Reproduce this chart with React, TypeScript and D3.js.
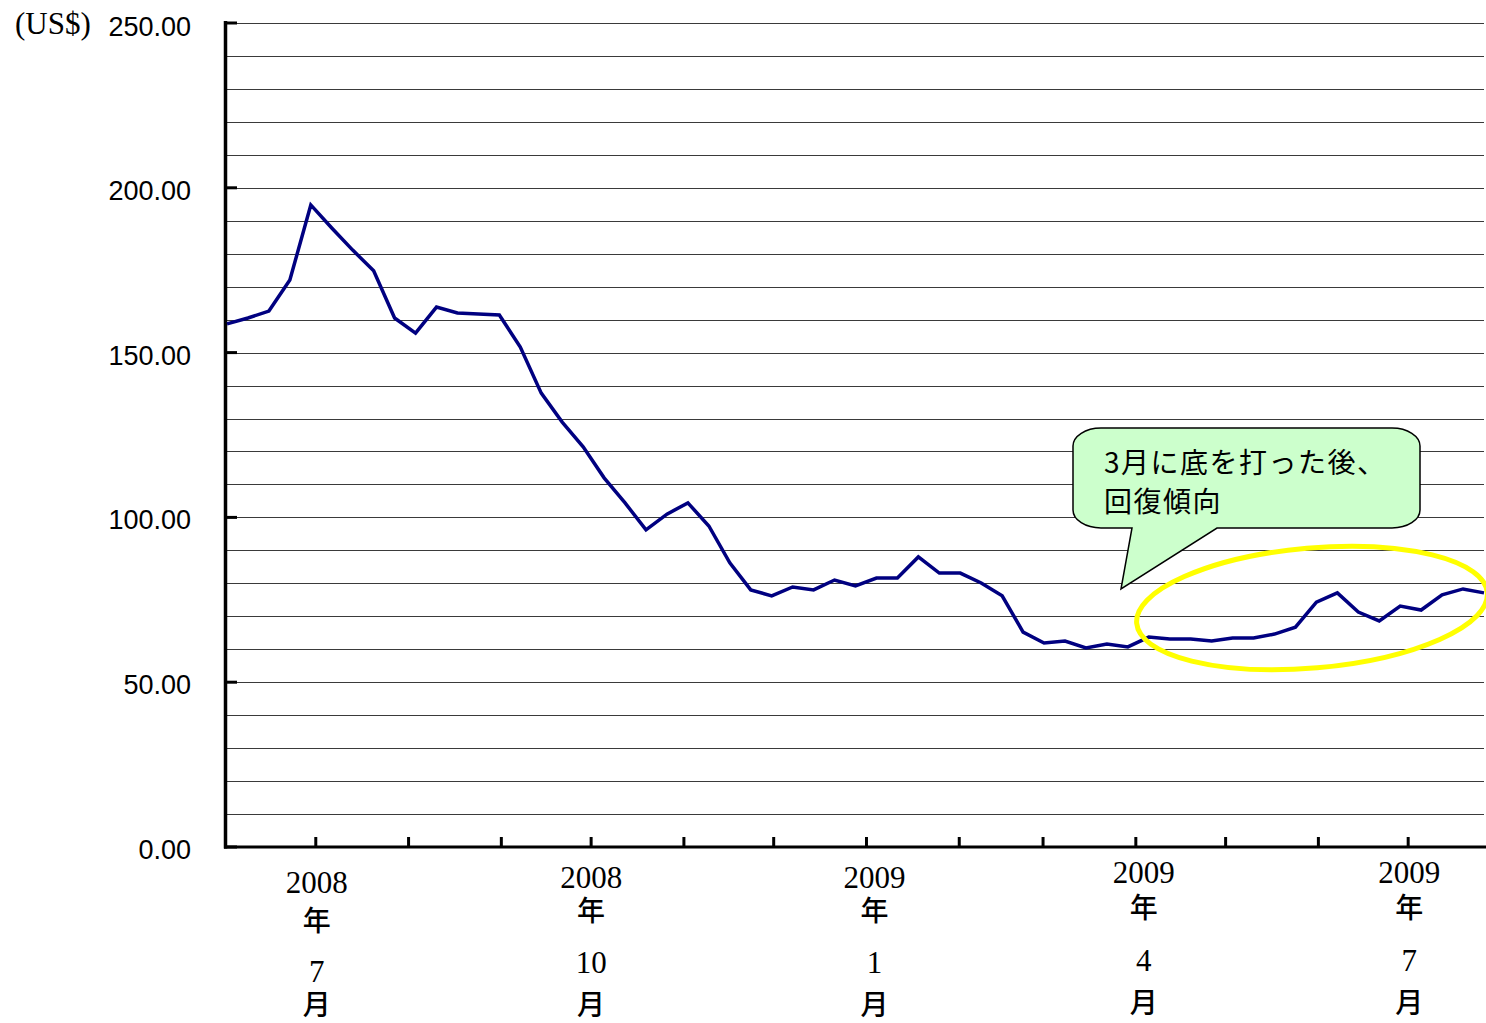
import React from "react";
import * as d3 from "d3";

const dates: string[] = [
  "2008-06-01","2008-06-08","2008-06-15","2008-06-22","2008-06-29",
  "2008-07-06","2008-07-13","2008-07-20","2008-07-27",
  "2008-08-03","2008-08-10","2008-08-17","2008-08-24","2008-08-31",
  "2008-09-07","2008-09-14","2008-09-21","2008-09-28",
  "2008-10-05","2008-10-12","2008-10-19","2008-10-26",
  "2008-11-02","2008-11-09","2008-11-16","2008-11-23","2008-11-30",
  "2008-12-07","2008-12-14","2008-12-21","2008-12-28",
  "2009-01-04","2009-01-11","2009-01-18","2009-01-25",
  "2009-02-01","2009-02-08","2009-02-15","2009-02-22",
  "2009-03-01","2009-03-08","2009-03-15","2009-03-22","2009-03-29",
  "2009-04-05","2009-04-12","2009-04-19","2009-04-26",
  "2009-05-03","2009-05-10","2009-05-17","2009-05-24","2009-05-31",
  "2009-06-07","2009-06-14","2009-06-21","2009-06-28",
  "2009-07-05","2009-07-12","2009-07-19","2009-07-26",
];

const prices: number[] = [
  158.7, 160.5, 162.6, 172.0, 194.8,
  187.8, 181.1, 174.8, 160.5,
  155.9, 163.8, 162.0, 161.7, 161.4,
  151.7, 137.7, 128.9, 121.4,
  112.0, 104.4, 96.2, 101.0,
  104.4, 97.4, 86.2, 78.0, 76.2,
  78.9, 78.0, 81.0, 79.2,
  81.6, 81.6, 88.0, 83.1,
  83.1, 80.1, 76.2, 65.2,
  61.9, 62.5, 60.4, 61.6, 60.7,
  63.7, 63.1, 63.1, 62.5,
  63.4, 63.4, 64.6, 66.7, 74.3,
  77.1, 71.3, 68.6, 73.1,
  71.9, 76.5, 78.3, 77.1,
];

const yTicks: number[] = [0, 50, 100, 150, 200, 250];
const monthTicks: string[] = [
  "2008-07-01","2008-08-01","2008-09-01","2008-10-01","2008-11-01","2008-12-01",
  "2009-01-01","2009-02-01","2009-03-01","2009-04-01","2009-05-01","2009-06-01","2009-07-01",
];
const labelDates: string[] = ["2008-07-01", "2008-10-01", "2009-01-01", "2009-04-01", "2009-07-01"];
const labelYears: string[] = ["2008", "2008", "2009", "2009", "2009"];
const labelMonths: string[] = ["7", "10", "1", "4", "7"];
const yearSuffix = "年";
const monthSuffix = "月";
const unitLabel = "(US$)";
const calloutLines: string[] = ["3月に底を打った後、", "回復傾向"];

const W = 1486;
const H = 1023;

export default function App() {
  const parse = d3.timeParse("%Y-%m-%d");
  const x = d3
    .scaleTime()
    .domain([parse("2008-06-01")!, parse("2009-07-26")!])
    .range([227, 1484]);
  const y = d3.scaleLinear().domain([0, 250]).range([847, 23]);

  const data = dates.map((d, i) => ({ date: parse(d)!, v: prices[i] }));
  const line = d3
    .line<{ date: Date; v: number }>()
    .x((d) => x(d.date))
    .y((d) => y(d.v));

  const grid = d3.range(10, 251, 10);

  // label layout (dx shift, baselines for year / 年 / month / 月)
  const labelLayout = [
    { dx: 0, b: [893, 931, 982, 1015] },
    { dx: -1, b: [888, 921, 973, 1015] },
    { dx: 7, b: [888, 921, 973, 1015] },
    { dx: 7, b: [883, 918, 971, 1013] },
    { dx: 0, b: [883, 918, 971, 1013] },
  ];

  const serif = "'Liberation Serif', 'Times New Roman', serif";
  const sans = "'Liberation Sans', Arial, sans-serif";
  const cjk = "'Noto Sans CJK JP', 'Noto Sans', sans-serif";

  // callout geometry
  const L = 1073, R = 1420, T = 428, B = 528, rx = 28, ry = 18;
  const calloutPath =
    `M ${L + rx} ${T} H ${R - rx} A ${rx} ${ry} 0 0 1 ${R} ${T + ry} V ${B - ry} ` +
    `A ${rx} ${ry} 0 0 1 ${R - rx} ${B} H 1217 L 1121 589 L 1132 ${B} H ${L + rx} ` +
    `A ${rx} ${ry} 0 0 1 ${L} ${B - ry} V ${T + ry} A ${rx} ${ry} 0 0 1 ${L + rx} ${T} Z`;

  return (
    <svg
      width={W}
      height={H}
      style={{ position: "absolute", left: 0, top: 0, background: "#fff" }}
    >
      <rect x={0} y={0} width={W} height={H} fill="#fff" />
      {/* gridlines */}
      {grid.map((g) => (
        <line
          key={g}
          x1={227}
          x2={1484}
          y1={Math.round(y(g)) + 0.5}
          y2={Math.round(y(g)) + 0.5}
          stroke="#3a3a3a"
          strokeWidth={1}
        />
      ))}
      {/* y axis */}
      <line x1={225.5} x2={225.5} y1={21} y2={848.5} stroke="#000" strokeWidth={3.5} />
      {yTicks.map((t) => (
        <g key={t}>
          <line x1={224} x2={237} y1={y(t)} y2={y(t)} stroke="#000" strokeWidth={3} />
          <text
            x={191}
            y={y(t) + (t === 250 ? 13 : 12)}
            textAnchor="end"
            fontFamily={sans}
            fontSize={27}
            fill="#000"
          >
            {t.toFixed(2)}
          </text>
        </g>
      ))}
      <text x={15} y={34} fontFamily={serif} fontSize={31} fill="#000">
        {unitLabel}
      </text>
      {/* x axis */}
      <line x1={224} x2={1486} y1={847} y2={847} stroke="#000" strokeWidth={3} />
      {monthTicks.map((m) => {
        const xx = x(parse(m)!) - 1;
        return <line key={m} x1={xx} x2={xx} y1={837} y2={847} stroke="#000" strokeWidth={3} />;
      })}
      {labelDates.map((d, i) => {
        const cx = x(parse(d)!) + labelLayout[i].dx;
        const b = labelLayout[i].b;
        return (
          <g key={d} fill="#000" textAnchor="middle">
            <text x={cx} y={b[0]} fontFamily={serif} fontSize={31}>{labelYears[i]}</text>
            <text x={cx} y={b[1]} fontFamily={cjk} fontSize={28} fontWeight={500}>{yearSuffix}</text>
            <text x={cx} y={b[2]} fontFamily={serif} fontSize={31}>{labelMonths[i]}</text>
            <text x={cx} y={b[3]} fontFamily={cjk} fontSize={28} fontWeight={500}>{monthSuffix}</text>
          </g>
        );
      })}
      {/* data line */}
      <path d={line(data) || ""} fill="none" stroke="#000080" strokeWidth={3.5} strokeLinejoin="miter" />
      {/* callout */}
      <path d={calloutPath} fill="#ccffcc" stroke="#000" strokeWidth={1.5} />
      {calloutLines.map((t, i) => (
        <text
          key={i}
          x={1104}
          y={473 + i * 39}
          fontFamily={cjk}
          fontSize={28}
          letterSpacing={1.5}
          fill="#000"
        >
          {t}
        </text>
      ))}
      {/* highlight ellipse */}
      <ellipse
        cx={1312}
        cy={608}
        rx={176}
        ry={60}
        transform="rotate(-5 1312 608)"
        fill="none"
        stroke="#ffff00"
        strokeWidth={5}
      />
    </svg>
  );
}
